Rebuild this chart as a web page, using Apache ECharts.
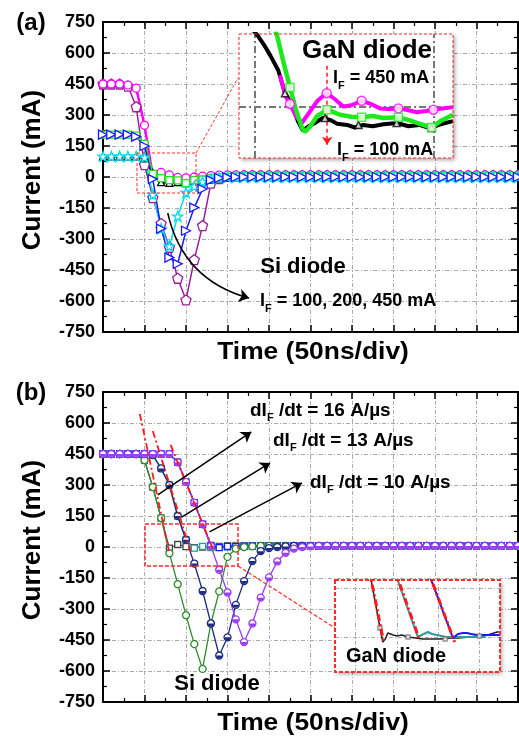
<!DOCTYPE html>
<html>
<head>
<meta charset="utf-8">
<script src="https://cdn.jsdelivr.net/npm/echarts@6/dist/echarts.min.js"></script>
<style>
  html, body { margin: 0; padding: 0; background: #fff; }
  #chart { width: 519px; height: 739px; }
</style>
</head>
<body>
<div id="chart"></div>
<script>
const F = '"Liberation Sans", Arial, sans-serif'

// time samples (ns), 50 ns per division
const timeNs = [0, 10, 20, 30, 40, 50, 60, 70, 80, 90, 100, 110, 120, 130, 140, 150, 160, 170, 180, 190,
  200, 210, 220, 230, 240, 250, 260, 270, 280, 290, 300, 310, 320, 330, 340, 350, 360, 370, 380, 390,
  400, 410, 420, 430, 440, 450, 460, 470, 480, 490, 500]

// (a) Si diode, IF = 100 / 200 / 450 mA
const si100A = [100, 100, 100, 100, 100, 95, -85, -250, -335, -190, -75, -45, -22, -8, -3,
  0, 0, 0, 0, 0, 0, 0, 0, 0, 0, 0, 0, 0, 0, 0, 0, 0, 0, 0, 0, 0, 0, 0, 0, 0, 0, 0, 0, 0, 0, 0, 0, 0, 0, 0, 0]
const si200A = [205, 205, 205, 205, 195, 150, -10, -250, -390, -420, -260, -148, -58, -15, -5,
  -2, 0, 0, 0, 0, 0, 0, 0, 0, 0, 0, 0, 0, 0, 0, 0, 0, 0, 0, 0, 0, 0, 0, 0, 0, 0, 0, 0, 0, 0, 0, 0, 0, 0, 0, 0]
const si450A = [450, 450, 450, 440, 340, 60, -100, -225, -340, -490, -595, -400, -235, -30, -8,
  3, 6, 8, 8, 8, 8, 8, 8, 8, 8, 8, 8, 8, 8, 8, 8, 8, 8, 8, 8, 8, 8, 8, 8, 8, 8, 8, 8, 8, 8, 8, 8, 8, 8, 8, 8]
// (a) GaN diode
const gan100A = [100, 100, 100, 100, 100, 90, 20, -25, -28, -25, -30, -22, -18, -12, -6,
  -2, 0, 1, 1, 1, 1, 1, 1, 1, 1, 1, 1, 1, 1, 1, 1, 1, 1, 1, 1, 1, 1, 1, 1, 1, 1, 1, 1, 1, 1, 1, 1, 1, 1, 1, 1]
const gan200A = [205, 205, 205, 205, 200, 160, 15, -5, -15, -16, -30, -15, -12, -6, -2,
  1, 2, 3, 3, 3, 3, 3, 3, 3, 3, 3, 3, 3, 3, 3, 3, 3, 3, 3, 3, 3, 3, 3, 3, 3, 3, 3, 3, 3, 3, 3, 3, 3, 3, 3, 3]
const gan450A = [450, 450, 450, 445, 430, 250, 5, 22, 10, -2, -4, 0, 4, 7, 9,
  10, 10, 10, 10, 10, 10, 10, 10, 10, 10, 10, 10, 10, 10, 10, 10, 10, 10, 10, 10, 10, 10, 10, 10, 10, 10, 10, 10, 10, 10, 10, 10, 10, 10, 10, 10]
// (a) curved pointer from the Si curves to the IF label
const siPointer = [[78, -174], [176, -586]]

// (a) inset, GaN diode close-up
const tBlkIn = [47, 49, 50.8, 52.5, 54.3, 56.5, 58.4, 60.4, 62, 63.4, 65, 66.8, 69, 71, 73, 75.8, 78, 80.3, 83, 86, 89.8, 93, 96, 99, 102, 105.5]
const vBlkIn = [140, 124, 112, 98, 81, 58, 22, 3, -22, -37, -30, -25, -17, -20, -26, -28, -32, -28, -30, -27, -25, -30, -28, -33, -27, -22]
const tGrnIn = [54.5, 56.2, 58, 59.8, 61.5, 63.2, 64, 65.5, 67.4, 70.2, 72, 73.8, 77, 80, 83, 86, 90.2, 93, 96, 99.5, 102, 105.5]
const vGrnIn = [140, 112, 70, 31, -5, -33, -39, -30, -14, -4, -8, -12, -15, -16, -14, -17, -16, -20, -26, -32, -22, -12]
const tMagIn = [57, 58.5, 59.8, 61.5, 63.1, 65, 67.5, 70.1, 72.5, 74.7, 77, 79.9, 82.5, 85, 87.5, 90.2, 93, 95.3, 98, 100, 102.5, 105.5]
const vMagIn = [50, 18, 5, -15, -25, -10, 10, 22, 12, 1, 3, 10, 5, -2, -3, -2, -5, -8, -6, -4, -2, 0]
const blkMarkIn = [[58.4, 22], [69.6, -17], [79, -28], [89.7, -25], [99.5, -33]]
const grnMarkIn = [[59.8, 31], [70.2, -4], [79.9, -16], [90.2, -16], [99.5, -32]]
const magMarkIn = [[59.8, 5], [70.1, 22], [79.9, 10], [90.2, -2], [100, -4]]

// (b) Si diode, dIF/dt = 16 / 13 / 10 A/us
const si16B = [450, 450, 450, 450, 450, 420, 290, 140, -30, -180, -330, -470, -590, -370, -215, -48, -8, 0, 3, 5,
  5, 5, 5, 5, 5, 5, 5, 5, 5, 5, 5, 5, 5, 5, 5, 5, 5, 5, 5, 5, 5, 5, 5, 5, 5, 5, 5, 5, 5, 5, 5]
const si13B = [450, 450, 450, 450, 450, 450, 445, 380, 300, 150, 35, -80, -213, -370, -525, -437, -280, -165, -68, -20,
  -5, 0, 3, 5, 5, 5, 5, 5, 5, 5, 5, 5, 5, 5, 5, 5, 5, 5, 5, 5, 5, 5, 5, 5, 5, 5, 5, 5, 5, 5, 5]
const si10B = [450, 450, 450, 450, 450, 450, 450, 450, 450, 410, 315, 215, 110, 5, -110, -220, -350, -460, -370, -245,
  -147, -70, -28, -8, 0, 3, 5, 5, 5, 5, 5, 5, 5, 5, 5, 5, 5, 5, 5, 5, 5, 5, 5, 5, 5, 5, 5, 5, 5, 5, 5]
// (b) GaN diode
const gan16B = [450, 450, 450, 450, 450, 420, 290, 140, -5, 12, 2, -3, 0, 2, 3, 5, 5, 5, 5, 5,
  5, 5, 5, 5, 5, 5, 5, 5, 5, 5, 5, 5, 5, 5, 5, 5, 5, 5, 5, 5, 5, 5, 5, 5, 5, 5, 5, 5, 5, 5, 5]
const gan13B = [450, 450, 450, 450, 450, 450, 445, 380, 300, 150, 35, -5, 3, -3, -2, 0, 2, 3, 4, 5,
  5, 5, 5, 5, 5, 5, 5, 5, 5, 5, 5, 5, 5, 5, 5, 5, 5, 5, 5, 5, 5, 5, 5, 5, 5, 5, 5, 5, 5, 5, 5]
const gan10B = [450, 450, 450, 450, 450, 450, 450, 450, 450, 410, 315, 215, 110, 8, -3, 3, 2, 4, 5, 5,
  5, 5, 5, 5, 5, 5, 5, 5, 5, 5, 5, 5, 5, 5, 5, 5, 5, 5, 5, 5, 5, 5, 5, 5, 5, 5, 5, 5, 5, 5, 5]
// (b) dI/dt tangent lines
const slope16 = [[44.4, 644], [79.5, -20]]
const slope13 = [[60, 561], [105.5, -20]]
const slope10 = [[81.5, 494], [133.5, -20]]

// (b) inset, GaN diode close-up
const xBlkB = [8.4, 10.9, 11.6, 12.2, 12.8, 13.5, 14.1, 15, 16.2, 17.7, 19.5, 21.3, 23.5, 25.5, 28, 30, 32.7, 35, 37, 39.3, 40]
const yBlkB = [65, 9, -5, -2, 4, 3, 2, 1, 2, 0, -1, -2, -2, -2, -1, -1, 0, 1, 2, 5, 5]
const xTealB = [14.5, 20.1, 21, 22.5, 23.5, 24.7, 27, 29.6, 32, 34, 36.5]
const yTealB = [65, 0, 2, 5, 3, 2, 0, 0, 0, 0, 0]
const xBlueB = [22.6, 28.6, 29.2, 29.8, 31, 32, 33, 34.4, 36, 38, 40]
const yBlueB = [65, -1, 1, 3, 4, 4, 3, 2, 2, 2, 2]
const blkMarkB = [[10.9, 9], [17.7, 0], [26.7, -2], [35, 1]]
const red1B = [[8.3, 67], [11.8, -5]]
const red2B = [[14.5, 67], [20.6, -4]]
const red3B = [[22.5, 67], [29, -5]]

const yTicks = [-750, 750, 150]

function pairs(ts, vs) {
  return ts.map(function (t, i) { return [t, vs[i]] })
}

const gridDash = [4, 2, 1, 2]

function xAx(grid, pos) {
  return {
    type: 'value', gridIndex: grid, position: pos, min: 0, max: 500, interval: 50,
    axisLine: { show: true, onZero: false, lineStyle: { color: '#000', width: 2 } },
    axisTick: { show: true, inside: true, length: 7, lineStyle: { color: '#000', width: 1.5 } },
    minorTick: { show: true, splitNumber: 2, length: 4, lineStyle: { color: '#000', width: 1.2 } },
    axisLabel: { show: false },
    splitLine: { show: pos === 'bottom', lineStyle: { color: '#aaa', width: 1, type: gridDash } },
  }
}
function yAx(grid, pos) {
  return {
    type: 'value', gridIndex: grid, position: pos, min: yTicks[0], max: yTicks[1], interval: yTicks[2],
    axisLine: { show: true, onZero: false, lineStyle: { color: '#000', width: 2 } },
    axisTick: { show: true, inside: true, length: 7, lineStyle: { color: '#000', width: 1.5 } },
    minorTick: { show: true, splitNumber: 2, length: 4, lineStyle: { color: '#000', width: 1.2 } },
    axisLabel: { show: pos === 'left', color: '#000', fontSize: 18, fontWeight: 'bold', fontFamily: F, margin: 8 },
    splitLine: { show: pos === 'left', lineStyle: { color: '#aaa', width: 1, type: gridDash } },
  }
}

const pentagon = 'path://M5,0 L10,3.8 L8.1,10 L1.9,10 L0,3.8 Z'
const triRight = 'path://M0,0 L10,5 L0,10 Z'
const star = 'path://M5,0 L6.2,3.6 L10,3.6 L6.9,5.9 L8.1,9.5 L5,7.3 L1.9,9.5 L3.1,5.9 L0,3.6 L3.8,3.6 Z'
const halfDisc = 'path://M0,0 A5,5 0 0 0 10,0 Z'

function mainLine(ax, vals, color, symbol, size, lw, extra) {
  return Object.assign({
    type: 'line', xAxisIndex: ax, yAxisIndex: ax, data: pairs(timeNs, vals),
    symbol: symbol, symbolSize: size, showSymbol: true,
    lineStyle: { color: color, width: lw },
    itemStyle: { color: '#fff', borderColor: color, borderWidth: 1.3 },
    emphasis: { disabled: true }, z: 2,
  }, extra || {})
}
function insetLine(ax, xs, ys, color, lw, extra) {
  return Object.assign({
    type: 'line', xAxisIndex: ax, yAxisIndex: ax, data: pairs(xs, ys), showSymbol: false,
    lineStyle: { color: color, width: lw }, emphasis: { disabled: true }, z: 10,
  }, extra || {})
}
function insetMarks(ax, pts, color, symbol, size) {
  return {
    type: 'scatter', xAxisIndex: ax, yAxisIndex: ax, data: pts, symbol: symbol, symbolSize: size,
    itemStyle: { color: '#fff', borderColor: color, borderWidth: 1.5 }, emphasis: { disabled: true }, z: 11,
  }
}
function redLine(ax, pts, lw, z) {
  return {
    type: 'line', xAxisIndex: ax, yAxisIndex: ax, data: pts, showSymbol: false,
    lineStyle: { color: '#ff1a1a', width: lw, type: [7, 3, 2, 3] }, emphasis: { disabled: true }, z: z,
  }
}

const greyMark = { color: '#777', width: 2, type: [7, 3, 2, 3] }

function subStyle(size) {
  return {
    n: { fontSize: size, fontWeight: 'bold', fontFamily: F, lineHeight: size, verticalAlign: 'top', color: '#000' },
    s: { fontSize: 11, fontWeight: 'bold', fontFamily: F, lineHeight: 11, padding: [Math.round(size * 0.6), 0, 0, 0], verticalAlign: 'top', color: '#000' },
  }
}
function label(x, y, text, size, extra) {
  return Object.assign({
    type: 'text', x: x, y: y, z: 20,
    style: { text: text, fill: '#000', font: 'bold ' + size + 'px ' + F, align: 'center', verticalAlign: 'middle' },
  }, extra || {})
}
function subLabel(x, y, text, size) {
  return { type: 'text', x: x, y: y, z: 20, style: { text: text, rich: subStyle(size || 18), align: 'left', verticalAlign: 'middle' } }
}

const option = {
  animation: false,
  backgroundColor: '#fff',
  grid: [
    { left: 103, top: 22, width: 415, height: 310 },
    { left: 103, top: 392, width: 415, height: 310 },
    { left: 239, top: 34, width: 214, height: 124 },
    { left: 335, top: 580, width: 165, height: 92 },
  ],
  xAxis: [
    xAx(0, 'bottom'), xAx(1, 'bottom'),
    { type: 'value', gridIndex: 2, min: 45.5, max: 105.5, show: false },
    { type: 'value', gridIndex: 3, min: 0, max: 40, show: false },
    xAx(0, 'top'), xAx(1, 'top'),
  ],
  yAxis: [
    yAx(0, 'left'), yAx(1, 'left'),
    { type: 'value', gridIndex: 2, min: -80, max: 115, show: false },
    { type: 'value', gridIndex: 3, min: -35, max: 57, show: false },
    yAx(0, 'right'), yAx(1, 'right'),
  ],
  series: [
    // ---- (a) main
    mainLine(0, si450A, '#9b1b9b', pentagon, 10, 1.5),
    mainLine(0, gan450A, '#ff00ff', 'circle', 8, 2.5),
    mainLine(0, gan100A, '#000000', 'triangle', 7, 2.5),
    mainLine(0, gan200A, '#1ee81e', 'rect', 7, 2.5),
    mainLine(0, si100A, '#00dcef', star, 10, 1.5),
    mainLine(0, si200A, '#1a1aff', triRight, 9, 1.5),
    {
      type: 'lines', coordinateSystem: 'cartesian2d', xAxisIndex: 0, yAxisIndex: 0,
      symbol: ['none', 'arrow'], symbolSize: 10, silent: true, z: 4,
      lineStyle: { color: '#000', width: 1.5, opacity: 1, curveness: -0.3 },
      data: [{ coords: siPointer }],
    },

    // ---- (a) inset
    insetLine(2, tBlkIn, vBlkIn, '#000', 4, {
      markLine: {
        silent: true, symbol: ['none', 'none'], label: { show: false }, lineStyle: greyMark,
        data: [{ xAxis: 50 }, { xAxis: 100 }, { yAxis: 0 }],
      },
    }),
    insetLine(2, tMagIn, vMagIn, '#ff00ff', 4),
    insetLine(2, tGrnIn, vGrnIn, '#1ee81e', 4.5, {
      markLine: {
        silent: true, symbol: ['none', 'arrow'], symbolSize: 8, label: { show: false },
        lineStyle: { color: '#ff1a1a', width: 1.5, type: [4, 3] },
        data: [[{ coord: [70.2, 65] }, { coord: [70.2, -59] }]],
      },
    }),
    insetMarks(2, blkMarkIn, '#000', 'triangle', 7),
    insetMarks(2, magMarkIn, '#ff00ff', 'circle', 9),
    insetMarks(2, grnMarkIn, '#1ee81e', 'rect', 8),

    // ---- (b) main
    mainLine(1, gan16B, '#444444', 'rect', 6, 1.2),
    mainLine(1, gan13B, '#2e9c98', 'rect', 6, 1.5),
    mainLine(1, gan10B, '#1a1aff', 'rect', 6, 1.5),
    mainLine(1, si16B, '#2e8b2e', 'circle', 7, 1.3),
    mainLine(1, si13B, '#1c2a80', 'circle', 7, 1.3),
    mainLine(1, si13B, '#1c2a80', halfDisc, [6, 3], 0, {
      lineStyle: { width: 0, opacity: 0 }, itemStyle: { color: '#1c2a80' }, symbolOffset: [0, 1.5],
    }),
    mainLine(1, si10B, '#9a3cf0', 'circle', 7, 1.3),
    mainLine(1, si10B, '#9a3cf0', halfDisc, [6, 3], 0, {
      lineStyle: { width: 0, opacity: 0 }, itemStyle: { color: '#9a3cf0' }, symbolOffset: [0, 1.5],
    }),
    redLine(1, slope16, 1.8, 3),
    redLine(1, slope13, 1.8, 3),
    Object.assign(redLine(1, slope10, 1.8, 3), {
      markLine: {
        silent: true, symbol: ['none', 'arrow'], symbolSize: 10, label: { show: false },
        lineStyle: { color: '#000', width: 1.5, type: 'solid' },
        data: [
          [{ coord: [66, 252] }, { coord: [178.7, 557] }],
          [{ coord: [94.7, 145] }, { coord: [201.4, 407] }],
          [{ coord: [128.3, 73] }, { coord: [239.8, 310] }],
        ],
      },
    }),

    // ---- (b) inset
    insetLine(3, xBlkB, yBlkB, '#222', 1.5, {
      markLine: {
        silent: true, symbol: ['none', 'none'], label: { show: false },
        lineStyle: { color: '#aaa', width: 1, type: gridDash },
        data: [{ xAxis: 5 }, { xAxis: 15 }, { xAxis: 25 }, { xAxis: 35 }, { yAxis: 0 }, { yAxis: 49 }],
      },
    }),
    insetLine(3, xTealB, yTealB, '#2e9c98', 2),
    insetLine(3, xBlueB, yBlueB, '#1a1aff', 2),
    insetMarks(3, blkMarkB, '#777', 'rect', 4),
    redLine(3, red1B, 3, 12),
    redLine(3, red2B, 3, 12),
    redLine(3, red3B, 3, 12),
  ],
  graphic: { elements: [
    // zoom boxes and connectors
    { type: 'rect', z: 4, shape: { x: 137, y: 153, width: 59, height: 40 }, style: { fill: 'none', stroke: '#ff2a2a', lineWidth: 1, lineDash: [3, 2] } },
    { type: 'line', z: 4, shape: { x1: 196, y1: 153, x2: 238, y2: 78 }, style: { stroke: '#ff2a2a', lineWidth: 1, lineDash: [3, 2] } },
    { type: 'rect', z: 4, shape: { x: 145, y: 524, width: 93, height: 42 }, style: { fill: 'none', stroke: '#ff2a2a', lineWidth: 1.5, lineDash: [4, 2] } },
    { type: 'line', z: 4, shape: { x1: 238, y1: 566, x2: 335, y2: 628 }, style: { stroke: '#ff2a2a', lineWidth: 1.2, lineDash: [4, 2] } },
    // inset backgrounds and borders
    { type: 'rect', z: 5, shape: { x: 239, y: 34, width: 214, height: 124 }, style: { fill: '#fff', shadowBlur: 4, shadowOffsetX: 2, shadowOffsetY: 2, shadowColor: 'rgba(0,0,0,0.35)' } },
    { type: 'rect', z: 12, shape: { x: 239, y: 34, width: 214, height: 124 }, style: { fill: 'none', stroke: '#ff2a2a', lineWidth: 1, lineDash: [3, 2] } },
    { type: 'rect', z: 5, shape: { x: 335, y: 580, width: 165, height: 92 }, style: { fill: '#fff', shadowBlur: 4, shadowOffsetX: 2, shadowOffsetY: 2, shadowColor: 'rgba(0,0,0,0.35)' } },
    { type: 'rect', z: 12, shape: { x: 335, y: 580, width: 165, height: 92 }, style: { fill: 'none', stroke: '#ff2a2a', lineWidth: 2, lineDash: [4, 2] } },
    // panel letters and axis titles
    label(31, 23, '(a)', 24),
    label(31, 393, '(b)', 24),
    label(33, 170, 'Current (mA)', 26, { rotation: Math.PI / 2 }),
    label(33, 540, 'Current (mA)', 26, { rotation: Math.PI / 2 }),
    label(313, 352, 'Time (50ns/div)', 24, { scaleX: 1.1 }),
    label(313, 723, 'Time (50ns/div)', 24, { scaleX: 1.1 }),
    // annotations (a)
    label(303, 267, 'Si diode', 22),
    subLabel(260, 301, '{n|I}{s|F}{n| = 100, 200, 450 mA}'),
    label(367, 51, 'GaN diode', 26),
    subLabel(333, 78, '{n|I}{s|F}{n| = 450 mA}'),
    subLabel(337, 150, '{n|I}{s|F}{n| = 100 mA}'),
    // annotations (b)
    subLabel(250, 411, '{n|dI}{s|F}{n| /dt = 16 A/µs}', 19),
    subLabel(273, 441, '{n|dI}{s|F}{n| /dt = 13 A/µs}', 19),
    subLabel(310, 483, '{n|dI}{s|F}{n| /dt = 10 A/µs}', 19),
    label(217, 684, 'Si diode', 22),
    label(396, 656, 'GaN diode', 20),
  ] },
}

const chart = echarts.init(document.getElementById('chart'))
chart.setOption(option)
</script>
</body>
</html>
